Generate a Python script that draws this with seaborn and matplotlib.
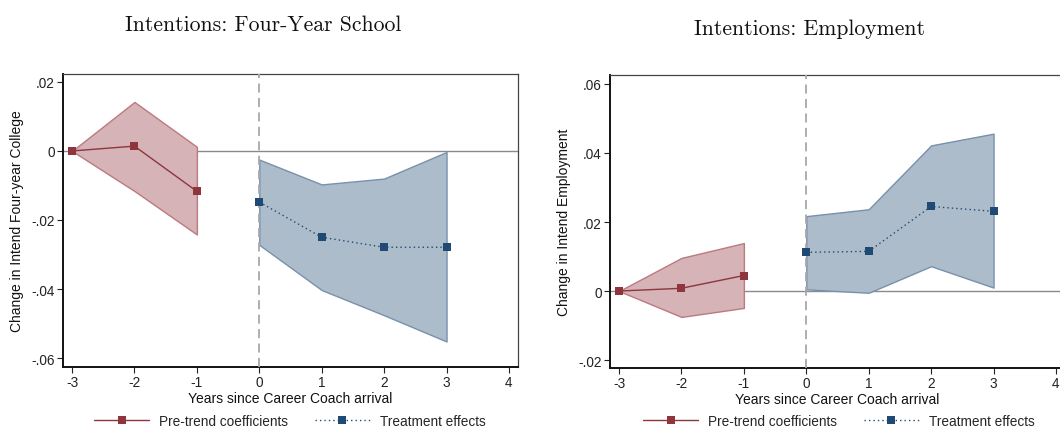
import numpy as np
import pandas as pd
import matplotlib
matplotlib.use("Agg")
import matplotlib.pyplot as plt
from matplotlib.ticker import FuncFormatter
from matplotlib.lines import Line2D
import seaborn as sns

# Event-study estimates: intentions for four-year school
school_pre_x = [-3, -2, -1]
school_pre_b = [0.0, 0.0014, -0.0117]
school_pre_lo = [0.0, -0.0116, -0.0242]
school_pre_hi = [0.0, 0.0142, 0.0012]
school_post_x = [0, 1, 2, 3]
school_post_b = [-0.0148, -0.0250, -0.0279, -0.0279]
school_post_lo = [-0.0272, -0.0403, -0.0476, -0.0552]
school_post_hi = [-0.0025, -0.0097, -0.0080, -0.0003]

# Event-study estimates: intentions for employment
emp_pre_x = [-3, -2, -1]
emp_pre_b = [0.0, 0.0008, 0.0045]
emp_pre_lo = [0.0, -0.0075, -0.0049]
emp_pre_hi = [0.0, 0.0096, 0.0139]
emp_post_x = [0, 1, 2, 3]
emp_post_b = [0.0112, 0.0115, 0.0245, 0.0231]
emp_post_lo = [0.0005, -0.0005, 0.0072, 0.0010]
emp_post_hi = [0.0217, 0.0237, 0.0422, 0.0456]

x_ticks = [-3, -2, -1, 0, 1, 2, 3, 4]
school_yticks = [0.02, 0.0, -0.02, -0.04, -0.06]
emp_yticks = [0.06, 0.04, 0.02, 0.0, -0.02]

titles = ["Intentions: Four-Year School", "Intentions: Employment"]
ylabels = ["Change in Intend Four-year College", "Change in Intend Employment"]
xlabel = "Years since Career Coach arrival"
legend_labels = ["Pre-trend coefficients", "Treatment effects"]

sns.set_theme(style="white")
plt.rcParams["font.family"] = ["Liberation Sans", "DejaVu Sans"]
plt.rcParams["font.size"] = 9
plt.rcParams["axes.unicode_minus"] = False

RED = "#8e353d"
RED_FILL = "#d5b3b6"
RED_EDGE = "#bb7a80"
BLUE = "#1f4a73"
BLUE_FILL = "#adbccb"
BLUE_EDGE = "#7791ac"
MS = 6.2


def stata_fmt(v, _pos):
    if abs(v) < 1e-12:
        return "0"
    s = f"{v:.2f}"
    return s.replace("0.", ".")


def panel(ax, pre, post, yticks, ylim, ylabel):
    px, pb, plo, phi = pre
    qx, qb, qlo, qhi = post
    ax.fill_between(px, plo, phi, facecolor=RED_FILL, edgecolor=RED_EDGE,
                    linewidth=1.0, zorder=2)
    ax.fill_between(qx, qlo, qhi, facecolor=BLUE_FILL, edgecolor=BLUE_EDGE,
                    linewidth=1.0, zorder=2)
    ax.axhline(0, color="#8a8a8a", lw=1.0, zorder=1)
    ax.axvline(0, color="#a8a8a8", lw=1.3, ls=(0, (5, 3)), zorder=3)
    pre_df = pd.DataFrame({"x": px, "b": pb})
    post_df = pd.DataFrame({"x": qx, "b": qb})
    sns.lineplot(data=pre_df, x="x", y="b", ax=ax, color=RED, lw=1.0,
                 marker="s", markersize=MS, markeredgewidth=0, zorder=4)
    sns.lineplot(data=post_df, x="x", y="b", ax=ax, color=BLUE, lw=1.0,
                 ls=(0, (1, 2.2)), marker="s", markersize=MS,
                 markeredgewidth=0, zorder=4)
    ax.set_xlim(-3.145, 4.145)
    ax.set_ylim(*ylim)
    ax.set_xticks(x_ticks)
    ax.set_yticks(yticks)
    ax.yaxis.set_major_formatter(FuncFormatter(stata_fmt))
    ax.tick_params(axis="both", direction="out", length=4, width=0.8,
                   colors="#222222", labelsize=9.8, pad=2,
                   left=True, bottom=True)
    ax.set_xlabel(xlabel, fontsize=10, labelpad=1, color="#111111")
    ax.set_ylabel(ylabel, fontsize=10, color="#111111")
    for side in ["top", "right"]:
        ax.spines[side].set_color("#444444")
        ax.spines[side].set_linewidth(0.9)
    for side in ["left", "bottom"]:
        ax.spines[side].set_color("#111111")
        ax.spines[side].set_linewidth(1.4)


fig = plt.figure(figsize=(10.6, 4.31), dpi=100)
ax1 = fig.add_axes([63 / 1060, 1 - 368 / 431, 455 / 1060, 293 / 431])
ax2 = fig.add_axes([610 / 1060, 1 - 369 / 431, 455 / 1060, 293 / 431])

panel(ax1, (school_pre_x, school_pre_b, school_pre_lo, school_pre_hi),
      (school_post_x, school_post_b, school_post_lo, school_post_hi),
      school_yticks, (-0.0626, 0.0223), ylabels[0])
panel(ax2, (emp_pre_x, emp_pre_b, emp_pre_lo, emp_pre_hi),
      (emp_post_x, emp_post_b, emp_post_lo, emp_post_hi),
      emp_yticks, (-0.0223, 0.0626), ylabels[1])

ax1.yaxis.set_label_coords(-0.0857, 0.5)
ax2.yaxis.set_label_coords(-0.085, 0.5)

fig.text(263 / 1060, 1 - 25 / 431, titles[0], family="cmr10", fontsize=15.6,
         ha="center", va="center", color="#111111")
fig.text(809 / 1060, 1 - 29 / 431, titles[1], family="cmr10", fontsize=15.6,
         ha="center", va="center", color="#111111")

handles = [
    Line2D([], [], color=RED, lw=1.0, marker="s", markersize=MS,
           markeredgewidth=0),
    Line2D([], [], color=BLUE, lw=1.0, ls=(0, (1, 2.2)), marker="s",
           markersize=MS, markeredgewidth=0),
]
for cx in (290 / 1060, 839 / 1060):
    fig.legend(handles, legend_labels, loc="center", ncol=2,
               bbox_to_anchor=(cx, 1 - 422 / 431), frameon=False,
               fontsize=9.8, handlelength=4.0, handletextpad=0.75,
               columnspacing=2.0, borderpad=0.1)

fig.savefig("out.png", dpi=100)
